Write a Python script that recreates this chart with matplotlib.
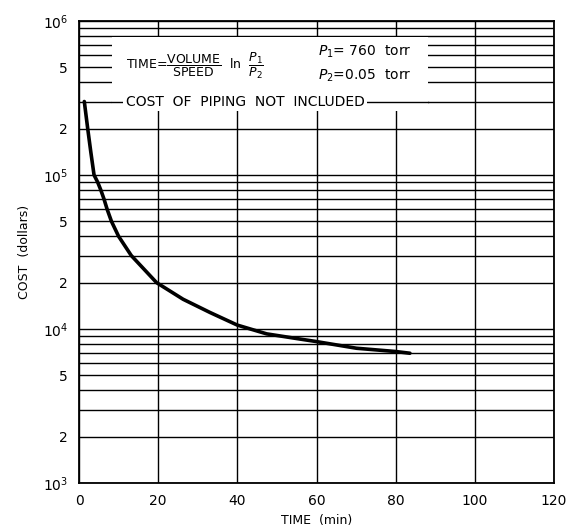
import numpy as np
import matplotlib
matplotlib.use("Agg")
import matplotlib.pyplot as plt
from matplotlib.patches import Rectangle
from matplotlib.ticker import FixedLocator, FixedFormatter

# pump-down time vs. cost
time_min = [1.34, 2.2, 3.0, 3.8, 4.7, 5.5, 6.3, 7.1, 8.2, 10.0, 13.2, 19.6,
            26.3, 33.1, 40.0, 47.4, 54.0, 59.8, 70.1, 80.0, 83.6]
cost_usd = [3.0e5, 2.0e5, 1.4e5, 1.0e5, 9.0e4, 8.0e4, 7.0e4, 6.0e4, 5.0e4, 4.0e4, 3.0e4, 2.0e4,
            1.56e4, 1.28e4, 1.06e4, 9.3e3, 8.75e3, 8.3e3, 7.5e3, 7.14e3, 6.96e3]

x_ticks = [0, 20, 40, 60, 80, 100, 120]
y_major = [1e3, 1e4, 1e5, 1e6]
y_major_labels = ["$10^3$", "$10^4$", "$10^5$", "$10^6$"]

plt.rcParams["font.family"] = ["DejaVu Sans"]
plt.rcParams["mathtext.fontset"] = "dejavusans"

fig = plt.figure(figsize=(5.69, 5.30), dpi=100)
ax = fig.add_axes([79 / 569, 1 - 483 / 530, 475 / 569, 462 / 530])

ax.set_yscale("log")
ax.set_xlim(0, 120)
ax.set_ylim(1e3, 1e6)

# grid: every 20 min, every 1..9 per decade
minor = [m * 10 ** e for e in range(3, 6) for m in range(2, 10)]
minor_labels = [str(m) if m in (2, 5) else "" for e in range(3, 6) for m in range(2, 10)]
ax.xaxis.set_major_locator(FixedLocator(x_ticks))
ax.yaxis.set_major_locator(FixedLocator(y_major))
ax.yaxis.set_major_formatter(FixedFormatter(y_major_labels))
ax.yaxis.set_minor_locator(FixedLocator(minor))
ax.yaxis.set_minor_formatter(FixedFormatter(minor_labels))
ax.grid(True, which="both", color="black", lw=1.0, zorder=1)
ax.tick_params(which="both", length=0, labelsize=10, pad=8)
for s in ax.spines.values():
    s.set_linewidth(1.3)

ax.plot(time_min, cost_usd, color="black", lw=2.6, solid_joinstyle="round",
        solid_capstyle="round", zorder=3)

# blank panel for the annotation, as on the original chart
ax.add_patch(Rectangle((8.3, 2.6e5), 88.1 - 8.3, 7.9e5 - 2.6e5, facecolor="white",
                       edgecolor="none", zorder=2))
ax.plot([8.3, 88.1], [3e5, 3e5], color="black", lw=1.0, zorder=2.5)

ax.text(11.8, 5.1e5, r"TIME=$\dfrac{\mathrm{VOLUME}}{\mathrm{SPEED}}$  ln  $\dfrac{P_1}{P_2}$",
        fontsize=9, va="center", zorder=4)
ax.text(60.5, 6.3e5, r"$P_1$= 760  torr", fontsize=10, va="center", zorder=4)
ax.text(60.5, 4.4e5, r"$P_2$=0.05  torr", fontsize=10, va="center", zorder=4)
ax.text(11.8, 3.0e5, "COST  OF  PIPING  NOT  INCLUDED", fontsize=10, va="center", zorder=4,
        bbox=dict(facecolor="white", edgecolor="none", pad=2))

ax.set_xlabel("TIME  (min)", fontsize=9, labelpad=4)
ax.set_ylabel("COST  (dollars)", fontsize=9, labelpad=8)

fig.savefig("out.png", dpi=100)
